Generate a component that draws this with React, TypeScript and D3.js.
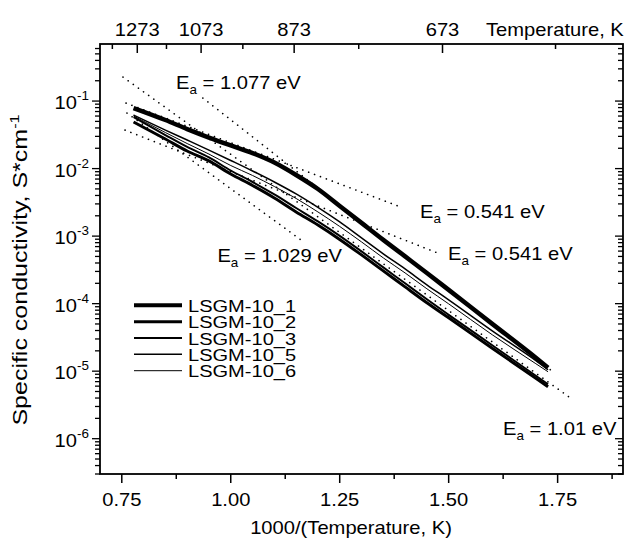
import React from 'react';
import * as d3 from 'd3';

// 1000/T grid used for all samples
const invT = [0.777, 0.85, 0.9, 0.95, 1.0, 1.05, 1.1, 1.15, 1.2, 1.25, 1.3, 1.35, 1.4, 1.45, 1.5, 1.6, 1.7, 1.728];

// specific conductivity, S/cm
const lsgm1 = [0.0788, 0.0524, 0.0385, 0.0288, 0.0220, 0.0170, 0.0123, 0.00804, 0.00499, 0.00280, 0.00157, 8.79e-4, 5.01e-4, 2.85e-4, 1.60e-4, 5.02e-5, 1.58e-5, 1.12e-5];
const lsgm2 = [0.0489, 0.0274, 0.0182, 0.0130, 0.00832, 0.00562, 0.00367, 0.00228, 0.00146, 8.94e-4, 5.27e-4, 3.06e-4, 1.77e-4, 1.03e-4, 6.16e-5, 2.18e-5, 7.85e-6, 5.88e-6];
const lsgm3 = [0.0580, 0.0314, 0.0209, 0.0146, 0.00937, 0.00633, 0.00414, 0.00261, 0.00165, 1.01e-3, 5.94e-4, 3.44e-4, 2.00e-4, 1.16e-4, 6.83e-5, 2.42e-5, 8.55e-6, 6.40e-6];
const lsgm5 = [0.0621, 0.0372, 0.0265, 0.0188, 0.0132, 0.00922, 0.00633, 0.00421, 0.00266, 0.00162, 9.41e-4, 5.46e-4, 3.27e-4, 1.90e-4, 1.14e-4, 3.96e-5, 1.43e-5, 1.05e-5];
const lsgm6 = [0.0600, 0.0342, 0.0235, 0.0164, 0.0111, 0.00791, 0.00543, 0.00361, 0.00228, 0.00139, 8.21e-4, 4.76e-4, 2.85e-4, 1.66e-4, 9.93e-5, 3.46e-5, 1.29e-5, 9.80e-6];

const seriesNames = ['LSGM-10_1', 'LSGM-10_2', 'LSGM-10_3', 'LSGM-10_5', 'LSGM-10_6'];
const seriesValues = [lsgm1, lsgm2, lsgm3, lsgm5, lsgm6];

// Arrhenius fit lines (dotted): endpoints in data units
const fitEa = ['1.077', '0.541', '1.029', '0.541', '1.01'];
const fitX1 = [0.936, 0.7596, 0.7619, 0.7573, 0.7528];
const fitY1 = [0.111, 0.0934, 0.0665, 0.0372, 0.2265];
const fitX2 = [1.739, 1.388, 1.1663, 1.476, 1.7849];
const fitY2 = [9.8e-6, 0.00273, 8.3e-4, 5.58e-4, 3.78e-6];

const xMajor = [0.75, 1.0, 1.25, 1.5, 1.75];
const xMinor = [0.875, 1.125, 1.375, 1.625, 1.875];
const tempMajor = [1273, 1073, 873, 673];
const tempMinor = [1373, 1173, 973, 773, 573];
const yDecades = [-6, -5, -4, -3, -2, -1];

const W = 632;
const H = 545;
const FONT = '"Liberation Sans", Arial, Helvetica, sans-serif';
const SX = 1.12;

function Label({ x, y, anchor = 'start', size = 18, sx = SX, rotate = false, children }: any) {
  const tr = rotate
    ? `translate(${x},${y}) rotate(-90) scale(${sx},1)`
    : `translate(${x},${y}) scale(${sx},1)`;
  return (
    <text transform={tr} textAnchor={anchor} fontSize={size} fontFamily={FONT} fill="#000">
      {children}
    </text>
  );
}

export default function App() {
  const x = d3.scaleLinear().domain([0.7, 1.9]).range([100, 623]);
  const y = d3.scaleLog().domain([3e-7, 0.7]).range([474, 44]);
  const [x0, x1] = x.range();
  const [yb, yt] = y.range();

  const widths = [4.5, 3, 2, 1.5, 1];
  const legendW = [4, 3, 2, 1.5, 1];

  const line = d3
    .line<number>()
    .x((d, i) => x(invT[i]))
    .y((d) => y(d))
    .curve(d3.curveMonotoneX);

  const yMinor: number[] = [];
  for (let e = -7; e <= -1; e++) {
    for (let m = 2; m <= 9; m++) {
      const v = m * Math.pow(10, e);
      if (v >= 3e-7 && v <= 0.7) yMinor.push(v);
    }
  }

  const sub = (ea: string) => (
    <>
      E<tspan dy={5} fontSize={12}>a</tspan>
      <tspan dy={-5}>{` = ${ea} eV`}</tspan>
    </>
  );

  return (
    <svg width={W} height={H} style={{ position: 'absolute', left: 0, top: 0, background: '#fff' }}>
      <rect x={0} y={0} width={W} height={H} fill="#fff" />

      {/* fit lines */}
      <g stroke="#000" strokeWidth={1.6} strokeLinecap="round" strokeDasharray="0.1 6.2">
        {fitEa.map((ea, i) => (
          <line key={i} x1={x(fitX1[i])} y1={y(fitY1[i])} x2={x(fitX2[i])} y2={y(fitY2[i])} />
        ))}
      </g>

      {/* data */}
      <g fill="none" stroke="#000" strokeLinejoin="round">
        {seriesValues.map((vals, i) => (
          <path key={seriesNames[i]} d={line(vals) || ''} strokeWidth={widths[i]} />
        ))}
      </g>

      {/* frame */}
      <rect x={x0} y={yt} width={x1 - x0} height={yb - yt} fill="none" stroke="#000" strokeWidth={1.8} />

      {/* bottom axis */}
      <g stroke="#000" strokeWidth={1.5}>
        {xMajor.map((t) => (
          <line key={t} x1={x(t)} x2={x(t)} y1={yb} y2={yb + 9} />
        ))}
        {xMinor.map((t) => (
          <line key={t} x1={x(t)} x2={x(t)} y1={yb} y2={yb + 5} />
        ))}
      </g>
      {xMajor.map((t) => (
        <Label key={t} x={x(t)} y={506} anchor="middle">
          {d3.format('.2f')(t)}
        </Label>
      ))}
      <Label x={351} y={534} anchor="middle">1000/(Temperature, K)</Label>

      {/* top axis: temperature */}
      <g stroke="#000" strokeWidth={1.5}>
        {tempMajor.map((t) => (
          <line key={t} x1={x(1000 / t)} x2={x(1000 / t)} y1={yt} y2={yt + 9} />
        ))}
        {tempMinor.map((t) => (
          <line key={t} x1={x(1000 / t)} x2={x(1000 / t)} y1={yt} y2={yt + 5} />
        ))}
      </g>
      {tempMajor.map((t) => (
        <Label key={t} x={x(1000 / t)} y={36} anchor="middle">
          {t}
        </Label>
      ))}
      <Label x={486} y={36}>Temperature, K</Label>

      {/* left & right axes */}
      <g stroke="#000" strokeWidth={1.3}>
        {yDecades.map((e) => (
          <g key={e}>
            <line x1={x0 - 8} x2={x0} y1={y(Math.pow(10, e))} y2={y(Math.pow(10, e))} />
            <line x1={x1 - 8} x2={x1} y1={y(Math.pow(10, e))} y2={y(Math.pow(10, e))} />
          </g>
        ))}
        {yMinor.map((v, i) => (
          <g key={i}>
            <line x1={x0 - 5} x2={x0} y1={y(v)} y2={y(v)} />
            <line x1={x1 - 5} x2={x1} y1={y(v)} y2={y(v)} />
          </g>
        ))}
      </g>
      {yDecades.map((e) => (
        <Label key={e} x={89} y={y(Math.pow(10, e)) + 8} anchor="end">
          10<tspan dy={-9} fontSize={12}>{e}</tspan>
        </Label>
      ))}
      <Label x={27} y={270} anchor="middle" size={20} sx={1.25} rotate>
        Specific conductivity, S*cm<tspan dy={-8} fontSize={13}>-1</tspan>
      </Label>

      {/* activation energy labels */}
      <Label x={176} y={89}>{sub(fitEa[0])}</Label>
      <Label x={420} y={218}>{sub(fitEa[1])}</Label>
      <Label x={342} y={262} anchor="end">{sub(fitEa[2])}</Label>
      <Label x={448} y={260}>{sub(fitEa[3])}</Label>
      <Label x={503} y={435}>{sub(fitEa[4])}</Label>

      {/* legend */}
      {seriesNames.map((n, i) => {
        const ly = 305.3 + i * 16.35;
        return (
          <g key={n}>
            <line x1={134} x2={182} y1={ly} y2={ly} stroke="#000" strokeWidth={legendW[i]} />
            <Label x={188} y={ly + 6.5} size={17} sx={1.18}>{n}</Label>
          </g>
        );
      })}
    </svg>
  );
}
